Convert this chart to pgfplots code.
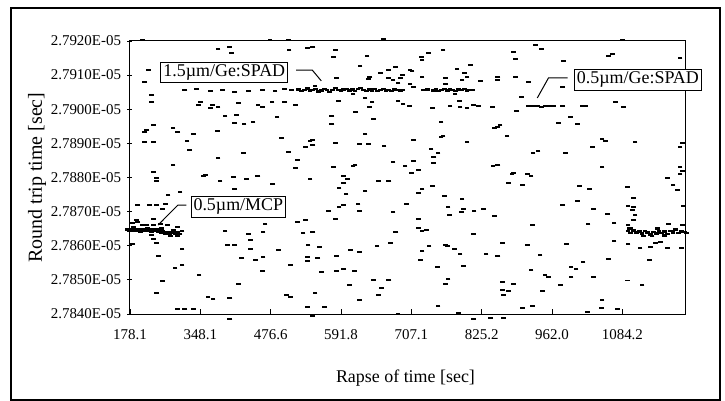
\documentclass[border=0pt]{standalone}
\usepackage{fontspec}
\setmainfont{Liberation Serif}
\usepackage{pgfplots}
\pgfplotsset{compat=1.18}
\usetikzlibrary{plotmarks}

\pgfplotsset{
  dots/.style={only marks, mark=-, mark size=2.4bp, mark options={line width=1.7bp}, color=black},
  band/.style={dots, mark options={line width=2.4bp}},
}
\tikzset{
  tag/.style={draw, fill=white, line width=1bp, inner sep=2.5bp, font=\fontsize{18}{18}\selectfont},
}

\begin{document}
\begin{tikzpicture}
\begin{axis}[
  scale only axis, width=555bp, height=273bp,
  xmin=0, xmax=78.9, ymin=27840, ymax=27920,
  clip=false, scaled y ticks=false, scaled x ticks=false,
  axis line style={line width=1bp},
  xtick={0,10,...,70},
  xticklabels={178.1,348.1,476.6,591.8,707.1,825.2,962.0,1084.2},
  ytick={27840,27850,...,27920},
  yticklabels={2.7840E-05,2.7850E-05,2.7860E-05,2.7870E-05,2.7880E-05,2.7890E-05,2.7900E-05,2.7910E-05,2.7920E-05},
  tick style={black, line width=0.8bp},
  xtick align=inside, ytick align=center, major tick length=5bp,
  xtick pos=bottom, ytick pos=left,
  ticklabel style={font=\fontsize{15}{15}\selectfont},
  xticklabel style={yshift=-12bp},
  yticklabel style={xshift=-3bp},
]
% scattered returns
\addplot[dots] coordinates {
(1.8,27920.3) (12.5,27917.7) (14.1,27918.2) (14.4,27916.5) (19.9,27920.3) (22.5,27920.3)
(22.6,27917.4) (25.2,27917.9) (2.6,27911.5) (2.1,27908.0) (3.1,27904.2) (3.1,27902.1)
(10.0,27902.1) (9.7,27901.2) (11.7,27901.2) (12.5,27900.7) (11.4,27900.4) (15.4,27901.8)
(18.2,27901.2) (18.8,27900.7) (20.2,27902.1) (22.0,27902.1) (23.5,27901.2) (13.5,27898.0)
(15.1,27898.3) (14.9,27896.0) (16.2,27895.7) (17.5,27896.3) (20.9,27897.7) (3.3,27895.4)
(2.4,27893.9) (2.1,27893.3) (6.1,27894.5) (6.8,27893.3) (9.0,27892.8) (12.4,27893.6)
(2.1,27890.4) (3.3,27890.4) (8.1,27890.7) (8.5,27888.1) (21.5,27891.6) (25.6,27890.7)
(24.9,27888.9) (22.5,27887.5) (12.5,27885.7) (16.1,27887.2) (6.1,27883.7) (3.3,27881.6)
(23.8,27885.1) (23.5,27882.8) (18.2,27880.4) (10.7,27880.7)
(7.8,27905.6) (9.5,27905.9) (11.4,27905.4) (13.1,27905.6) (14.9,27905.1) (16.8,27905.4)
(18.8,27905.6) (20.6,27905.4) (22.0,27905.9) (23.0,27905.6)
(36.0,27920.6) (26.0,27918.2) (29.2,27917.4) (28.9,27915.3) (33.7,27915.6) (32.7,27912.7)
(37.7,27912.4) (36.7,27911.5) (35.6,27910.6) (39.8,27911.5) (40.1,27911.2) (38.7,27910.0)
(34.1,27909.5) (33.9,27908.9) (36.7,27909.2) (37.4,27908.6) (38.4,27909.2) (38.1,27907.7)
(41.5,27909.5) (41.5,27914.4) (41.4,27915.3) (42.4,27916.5) (44.5,27917.4) (48.4,27913.0)
(46.5,27911.8) (47.5,27910.6) (47.9,27909.5) (47.2,27908.6) (44.8,27909.2) (44.8,27907.4)
(49.8,27908.3) (52.2,27908.6) (52.3,27909.5) (29.4,27909.2) (26.3,27906.8) (39.8,27907.4)
(40.3,27906.5) (31.7,27904.5) (33.4,27903.3) (46.2,27904.5) (29.6,27902.4) (34.4,27902.1)
(34.0,27900.7) (38.1,27902.4) (38.8,27901.5) (39.7,27900.9) (43.0,27900.4) (45.5,27900.9)
(46.9,27900.7) (47.9,27900.4) (48.8,27901.2) (49.5,27900.9) (46.8,27902.4) (51.5,27900.7)
(32.1,27899.2) (28.7,27898.0) (28.7,27895.7) (34.6,27897.1) (44.2,27896.3) (51.8,27894.5)
(52.3,27894.8) (33.4,27892.8) (25.9,27891.0) (26.0,27889.5) (29.2,27890.1) (32.6,27889.8)
(33.9,27889.8) (36.1,27889.2) (40.3,27891.0) (44.2,27891.9) (44.5,27892.2) (47.9,27890.4)
(42.8,27888.4) (43.8,27887.2) (43.2,27886.0) (43.1,27884.3) (28.9,27883.1) (32.0,27883.7)
(31.7,27883.4) (37.4,27884.5) (39.1,27883.4) (40.3,27884.8) (40.0,27881.3) (41.0,27882.2)
(30.3,27880.4) (51.6,27883.4)
(70.0,27920.3) (57.6,27918.8) (58.5,27917.7) (54.5,27916.8) (54.8,27914.7) (61.6,27914.1)
(68.0,27915.6) (68.6,27916.2) (78.2,27915.0) (54.8,27909.5) (56.6,27908.0) (61.5,27906.5)
(55.6,27903.6) (61.5,27900.9) (64.3,27900.9) (64.7,27900.9) (69.0,27902.1)
(70.1,27900.7) (55.0,27899.5) (62.6,27897.7) (63.6,27895.7) (60.9,27896.0) (52.6,27895.4)
(53.6,27892.2) (67.1,27891.3) (67.6,27890.7) (71.8,27890.4) (65.7,27888.9) (58.0,27887.8)
(57.3,27887.2) (61.9,27887.2) (78.5,27890.1) (78.2,27888.9) (67.1,27883.1) (54.5,27881.3)
(56.5,27881.0) (78.2,27883.1) (78.5,27881.9) (52.3,27883.7)
(3.8,27879.9) (3.8,27879.0) (10.4,27880.4) (14.7,27880.2) (16.6,27879.6) (18.1,27880.4)
(12.8,27879.0) (25.6,27879.6) (20.3,27878.1) (14.9,27876.6) (5.4,27874.9) (7.1,27875.8)
(1.1,27871.9) (2.8,27871.9) (3.8,27871.9) (5.0,27872.2) (4.6,27870.8) (0.9,27867.6)
(1.1,27867.0) (3.3,27867.8) (1.7,27866.1) (2.4,27866.1) (3.3,27866.1) (4.3,27866.4)
(5.3,27866.1) (6.7,27865.5) (3.1,27863.2) (0.4,27866.7) (23.8,27867.0) (24.9,27867.6)
(19.2,27866.4) (13.5,27864.3) (16.8,27863.5) (18.9,27864.0) (17.1,27861.7) (24.6,27863.7)
(0.4,27860.5) (3.3,27862.0) (3.8,27860.8) (7.4,27859.1) (13.9,27860.2) (14.9,27860.2)
(25.3,27860.2) (17.1,27859.1) (21.1,27858.8) (4.0,27857.0) (15.9,27856.4) (17.8,27855.8)
(18.9,27856.7) (25.2,27856.7) (25.2,27855.5) (7.4,27854.4) (6.4,27853.5) (22.8,27854.4)
(18.8,27852.6) (9.8,27851.4) (4.6,27849.7) (15.4,27848.8) (3.8,27846.2) (11.1,27845.0)
(11.8,27844.4) (14.2,27844.7) (22.3,27845.6) (22.8,27845.0) (25.2,27842.1) (6.7,27841.5)
(7.8,27841.5) (9.0,27841.5) (14.2,27838.5) (25.9,27839.4)
(30.9,27879.6) (30.4,27878.4) (29.7,27876.9) (30.7,27875.2) (33.4,27876.1) (35.3,27879.0)
(36.8,27879.0) (41.5,27876.6) (41.0,27875.5) (43.0,27877.5) (44.7,27874.6) (47.2,27873.7)
(32.4,27872.2) (29.7,27871.4) (30.3,27871.9) (39.3,27872.2) (45.2,27871.4) (47.4,27870.8)
(47.1,27869.9) (48.9,27870.2) (50.2,27870.8) (51.8,27868.7) (45.4,27869.0) (28.2,27870.2)
(32.6,27870.2) (37.4,27869.9) (29.2,27867.8) (41.0,27867.8) (41.0,27865.2) (41.5,27864.3)
(42.1,27864.6) (26.0,27864.0) (37.8,27864.0) (48.8,27863.5) (26.9,27859.6) (35.1,27859.9)
(37.0,27860.8) (42.5,27859.9) (44.8,27860.2) (45.1,27859.9) (46.1,27859.1) (46.9,27857.6)
(50.6,27857.6) (52.3,27857.0) (31.3,27858.8) (32.6,27858.2) (41.5,27858.5) (26.7,27856.4)
(29.3,27857.0) (41.3,27855.8) (47.4,27854.1) (43.7,27853.8) (30.4,27853.2) (29.4,27852.6)
(31.9,27852.6) (27.2,27852.3) (34.6,27850.0) (36.8,27850.0) (45.2,27850.3) (44.8,27848.8)
(31.2,27848.5) (35.7,27847.6) (26.3,27846.2) (35.3,27845.6) (32.6,27844.1) (27.7,27842.1)
(43.8,27842.4) (46.7,27840.3) (48.8,27838.5) (51.2,27838.8) (38.1,27840.0)
(54.3,27881.0) (57.0,27880.4) (53.8,27878.4) (55.8,27877.8) (63.9,27877.5) (65.3,27876.6)
(70.7,27877.2) (71.6,27874.0) (76.4,27879.9) (77.2,27877.8) (77.8,27876.3) (61.5,27871.9)
(63.6,27873.1) (65.9,27870.8) (67.9,27869.3) (70.8,27871.7) (71.6,27871.4) (71.4,27870.5)
(71.8,27869.0) (78.7,27871.7) (71.6,27867.6) (70.8,27866.1) (71.1,27865.2) (57.2,27866.1)
(65.1,27866.4) (68.8,27866.7) (76.5,27866.4) (78.5,27866.1) (70.8,27860.5) (72.5,27859.3)
(74.0,27859.6) (74.7,27860.8) (75.4,27861.1) (76.4,27859.3) (78.4,27859.3) (52.9,27860.8)
(56.5,27860.2) (62.0,27860.5) (68.8,27861.4) (58.3,27857.3) (73.8,27855.8) (68.0,27856.1)
(64.4,27855.2) (62.7,27853.8) (63.4,27853.2) (57.0,27852.9) (59.0,27851.4) (59.5,27850.9)
(62.7,27850.9) (65.9,27850.9) (52.9,27849.4) (54.5,27848.8) (61.2,27848.5) (70.7,27849.8)
(72.8,27848.5) (52.9,27847.0) (53.8,27846.7) (53.1,27845.6) (58.6,27846.7) (67.1,27844.1)
(55.8,27841.8) (57.2,27842.4) (67.0,27841.8) (69.3,27841.5) (65.0,27840.6) (53.1,27838.8)
(78.2,27881.0)
};
% 0.5um/MCP cluster
\addplot[band] coordinates {
(-0.4,27864.8) (-0.1,27864.4) (0.2,27864.8) (0.5,27864.4) (0.8,27864.8) (1.1,27864.4)
(1.4,27864.8) (1.7,27864.4) (2.0,27864.8) (2.3,27864.4) (2.6,27864.8) (2.9,27864.4)
(3.2,27864.8) (3.5,27864.4) (3.8,27864.8) (4.1,27864.2) (4.4,27863.8) (4.7,27864.4)
(5.0,27863.6) (5.3,27864.0) (5.6,27863.4) (5.9,27863.9) (6.2,27864.5) (6.5,27863.6)
(6.8,27864.1) (7.1,27863.5) (7.4,27864.3) (0.5,27865.3) (1.5,27864.0) (2.5,27865.2)
(3.0,27864.0) (4.5,27865.0) (5.8,27862.9) (6.8,27862.8)
};
% 1.5um/Ge:SPAD cluster
\addplot[band] coordinates {
(24.0,27905.8) (24.4,27905.3) (24.8,27905.7) (25.2,27906.1) (25.6,27905.4) (26.0,27905.6)
(26.4,27905.9) (26.8,27905.2) (27.2,27905.5) (27.6,27905.9) (28.0,27905.6) (28.4,27905.1)
(28.8,27905.7) (29.2,27906.2) (29.6,27905.6) (30.0,27905.3) (30.4,27905.8) (30.8,27906.0)
(31.2,27905.5) (31.6,27905.8) (32.0,27905.4) (32.4,27905.9) (32.8,27906.2) (33.2,27905.6)
(33.6,27905.3) (34.0,27905.8) (34.4,27905.5) (34.8,27905.9) (35.2,27905.4) (35.6,27905.7)
(36.0,27905.9) (36.4,27905.5) (36.8,27905.7) (37.2,27905.4) (37.6,27905.8) (38.0,27905.6)
(38.4,27905.5) (38.7,27905.7)
(41.7,27905.6) (42.3,27905.8) (43.1,27905.5) (43.5,27905.9) (43.9,27905.4) (44.3,27905.7)
(44.7,27906.0) (45.1,27905.5) (45.5,27905.8) (45.9,27905.6) (46.3,27905.3) (46.7,27905.8)
(47.1,27905.6) (47.5,27905.9) (47.9,27905.5) (48.3,27905.7) (48.7,27905.6)
};
% 0.5um/Ge:SPAD cluster
\addplot[band] coordinates {
(56.6,27900.9) (57.2,27900.9) (57.9,27900.9) (58.5,27900.7) (59.0,27900.9)
(59.6,27900.9) (60.2,27900.9)
};
% right-hand cluster
\addplot[band] coordinates {
(70.8,27864.3) (71.2,27863.8) (71.6,27864.5) (72.0,27863.9) (72.4,27864.2) (72.8,27863.6)
(73.2,27864.4) (73.6,27863.9) (74.0,27863.3) (74.4,27864.1) (74.8,27863.6) (75.2,27864.4)
(75.6,27863.8) (76.0,27864.2) (76.4,27863.5) (76.8,27864.3) (77.2,27863.9) (77.6,27864.6)
(78.0,27863.7) (78.4,27864.2) (78.8,27864.0) (79.1,27863.8) (71.0,27865.0) (73.0,27862.9)
(74.2,27862.8) (75.0,27865.0) (76.0,27863.0) (77.5,27864.9)
};
% call-outs
\draw[line width=1bp] (23.6,27911.5) -- (25.9,27911.5) -- (27.2,27908.3);
\draw[line width=1bp] (62.2,27909.2) -- (59.5,27909.2) -- (57.9,27903.3);
\draw[line width=1bp] (8.0,27871.9) -- (6.8,27871.9) -- (4.0,27866.1);
\node[tag] at (13.4,27910.8) {1.5µm/Ge:SPAD};
\node[tag] at (72.2,27908.6) {0.5µm/Ge:SPAD};
\node[tag] at (15.4,27871.4) {0.5µm/MCP};
\coordinate (SW) at (rel axis cs:0,0);
\coordinate (NE) at (rel axis cs:1,1);
\coordinate (ML) at (rel axis cs:0,0.5);
\coordinate (BM) at (rel axis cs:0.5,0);
\end{axis}
\node[rotate=90, font=\fontsize{20}{20}\selectfont] at ([xshift=-93bp]ML) {Round trip time [sec]};
\node[anchor=base, font=\fontsize{18}{18}\selectfont] at ([xshift=-2bp,yshift=-68bp]BM) {Rapse of time [sec]};
\draw[line width=1.5bp] ([xshift=-119bp,yshift=-86bp]SW) rectangle ([xshift=35bp,yshift=33bp]NE);
\path ([xshift=-130bp,yshift=-87bp]SW) rectangle ([xshift=40bp,yshift=41bp]NE);
\end{tikzpicture}
\end{document}
